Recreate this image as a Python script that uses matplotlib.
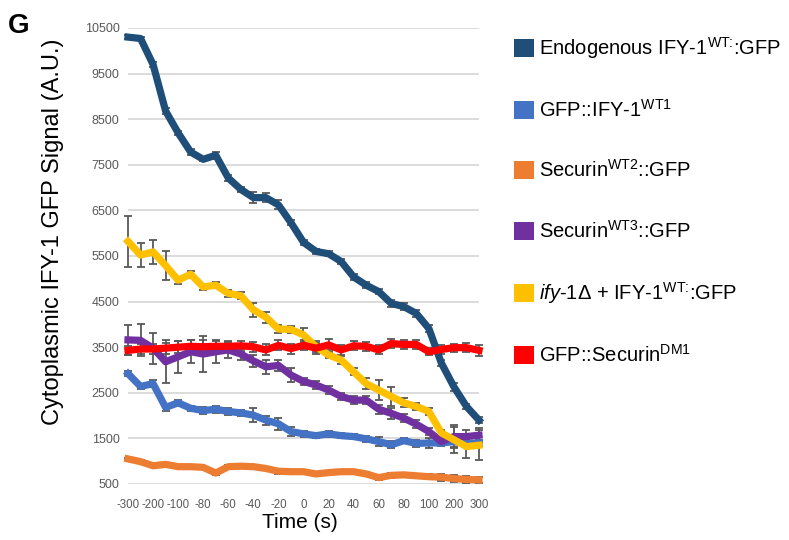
import numpy as np
import matplotlib.pyplot as plt
from matplotlib.patches import Patch

plt.rcParams['font.family'] = ['Liberation Sans', 'DejaVu Sans']
plt.rcParams['mathtext.fontset'] = 'custom'
plt.rcParams['mathtext.rm'] = 'Liberation Sans'
plt.rcParams['mathtext.it'] = 'Liberation Sans:italic'
plt.rcParams['mathtext.default'] = 'regular'

tick_labels = ["-300", "-200", "-100", "-80", "-60", "-40", "-20", "0",
               "20", "40", "60", "80", "100", "200", "300"]

endogenous = [10300, 10270, 9700, 8680, 8200, 7780, 7620, 7710, 7210, 6960,
              6780, 6780, 6620, 6230, 5800, 5600, 5550, 5380, 5040, 4860,
              4720, 4460, 4390, 4240, 3910, 3150, 2630, 2200, 1900]
gfp_ify1 = [2920, 2640, 2700, 2180, 2280, 2160, 2110, 2140, 2090, 2060,
            2010, 1900, 1820, 1650, 1600, 1560, 1600, 1560, 1540, 1490,
            1430, 1360, 1450, 1390, 1400, 1400, 1430, 1390, 1400]
securin_wt2 = [1050, 990, 900, 930, 880, 880, 865, 740, 880, 890,
               880, 840, 780, 770, 770, 720, 750, 770, 770, 720,
               640, 690, 700, 680, 660, 650, 620, 600, 590]
securin_wt3 = [3660, 3650, 3480, 3180, 3290, 3400, 3350, 3400, 3440, 3350,
               3200, 3070, 3100, 2890, 2750, 2670, 2560, 2420, 2340, 2340,
               2140, 2050, 1945, 1810, 1650, 1430, 1540, 1540, 1570]
ify1_delta = [5820, 5520, 5590, 5290, 4970, 5100, 4820, 4860, 4680, 4630,
              4320, 4160, 3900, 3890, 3770, 3510, 3330, 3220, 2960, 2700,
              2560, 2420, 2280, 2200, 2090, 1620, 1470, 1320, 1350]
securin_dm1 = [3430, 3460, 3460, 3480, 3500, 3520, 3510, 3520, 3520, 3530,
               3510, 3440, 3540, 3470, 3540, 3480, 3550, 3440, 3530, 3520,
               3440, 3580, 3560, 3560, 3400, 3450, 3490, 3490, 3430]

# error bar half-widths
endogenous_err = [40, 40, 60, 60, 50, 60, 40, 80, 60, 50,
                  120, 100, 100, 60, 60, 50, 50, 60, 60, 60,
                  60, 70, 80, 80, 80, 60, 80, 60, 60]
gfp_ify1_err = [60, 50, 80, 80, 60, 60, 80, 80, 70, 70,
                150, 100, 130, 100, 70, 60, 60, 60, 60, 60,
                90, 80, 60, 70, 100, 60, 120, 80, 60]
securin_wt2_err = [30, 30, 30, 30, 30, 30, 30, 40, 30, 30,
                   30, 40, 50, 40, 40, 50, 40, 40, 40, 40,
                   50, 60, 50, 50, 50, 80, 80, 80, 60]
securin_wt3_err = [330, 350, 340, 470, 350, 250, 400, 240, 180, 120,
                   130, 150, 130, 150, 80, 80, 90, 80, 80, 80,
                   100, 120, 80, 90, 80, 80, 260, 150, 150]
ify1_delta_err = [560, 260, 270, 320, 80, 80, 60, 60, 80, 70,
                  160, 120, 80, 70, 150, 120, 70, 80, 80, 120,
                  220, 200, 100, 80, 80, 60, 280, 250, 330]
securin_dm1_err = [100, 100, 100, 120, 130, 140, 140, 130, 120, 110,
                   110, 120, 110, 110, 110, 120, 120, 110, 100, 100,
                   100, 90, 90, 90, 80, 100, 90, 100, 120]

labels = [r"Endogenous IFY-1$^{WT\colon}$:GFP",
          r"GFP::IFY-1$^{WT1}$",
          r"Securin$^{WT2}$::GFP",
          r"Securin$^{WT3}$::GFP",
          r"$\mathit{ify}$-$\mathit{1}$Δ + IFY-1$^{WT\colon}$:GFP",
          r"GFP::Securin$^{DM1}$"]
series = [endogenous, gfp_ify1, securin_wt2, securin_wt3, ify1_delta, securin_dm1]
errors = [endogenous_err, gfp_ify1_err, securin_wt2_err, securin_wt3_err,
          ify1_delta_err, securin_dm1_err]
colors = ["#1F4E79", "#4472C4", "#ED7D31", "#7030A0", "#FFC000", "#FF0000"]

fig = plt.figure(figsize=(7.89, 5.4), dpi=100)
ax = fig.add_axes([128 / 789, 1 - 484 / 540, (479 - 128) / 789, (484 - 28) / 540])

x = np.arange(len(endogenous))
for y, e in zip(series, errors):
    ax.errorbar(x, y, yerr=e, fmt="none", ecolor="#595959", elinewidth=1.3,
                capsize=3, capthick=1.3, zorder=2, clip_on=False)
for i, (y, c) in enumerate(zip(series, colors)):
    ax.plot(x, y, color=c, linewidth=5.2, solid_joinstyle="round",
            zorder=3 + i, clip_on=False)

ax.set_xlim(0, len(x) - 1)
ax.set_ylim(500, 10500)
ax.set_yticks(np.arange(500, 10501, 1000))
ax.set_xticks(x[::2])
ax.set_xticklabels(tick_labels)
ax.grid(axis="y", color="#D9D9D9", linewidth=1.3)
ax.set_axisbelow(True)
for s in ax.spines.values():
    s.set_visible(False)
ax.tick_params(length=0, labelcolor="#595959")
ax.tick_params(axis="x", pad=11, labelsize=8.3)
ax.tick_params(axis="y", pad=6, labelsize=9)

fig.text(53 / 789, 1 - 232 / 540, "Cytoplasmic IFY-1 GFP Signal (A.U.)",
         rotation=90, ha="center", va="center", fontsize=17)
fig.text(300 / 789, 1 - 522 / 540, "Time (s)", ha="center", va="center",
         fontsize=15)
fig.text(8 / 789, 1 - 26 / 540, "G", ha="left", va="center", fontsize=20,
         fontweight="bold")

handles = [Patch(facecolor=c, edgecolor="none") for c in colors]
fig.legend(handles, labels, loc="upper left",
           bbox_to_anchor=(506 / 789, 1 - 27 / 540), frameon=False,
           fontsize=14.5, handlelength=1.0, handleheight=1.0,
           handletextpad=0.25, labelspacing=1.9, borderaxespad=0)

fig.savefig("out.png", dpi=100)
